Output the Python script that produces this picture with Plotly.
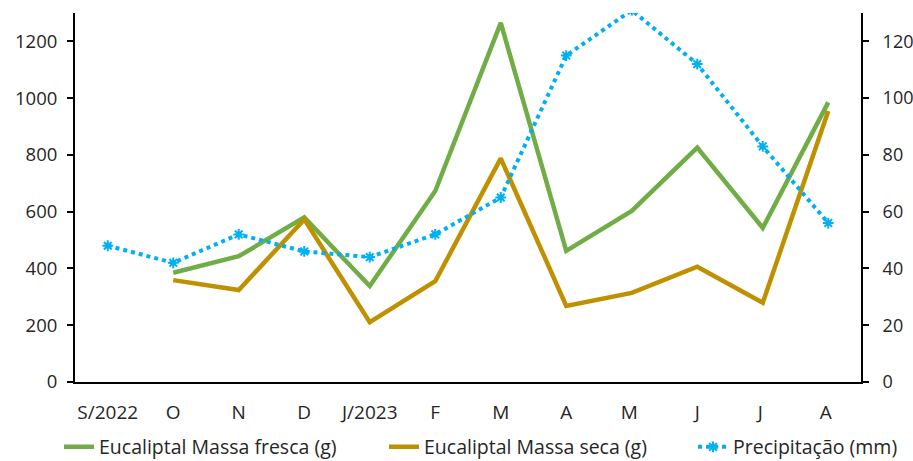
import plotly.graph_objects as go

months = ["S/2022", "O", "N", "D", "J/2023", "F", "M", "A", "M ", "J", "J ", "A "]
massa_fresca = [None, 385, 443, 580, 338, 673, 1265, 462, 603, 826, 543, 985]
massa_seca = [None, 359, 324, 573, 211, 355, 788, 268, 314, 406, 279, 955]
precipitacao = [48, 42, 52, 46, 44, 52, 65, 115, 131, 112, 83, 56]

font_family = "Open Sans, Liberation Sans, sans-serif"

fig = go.Figure()
fig.add_trace(go.Scatter(
    x=months, y=massa_fresca, mode="lines", name="Eucaliptal Massa fresca (g)",
    line=dict(color="#70AD47", width=4.5), connectgaps=False, legend="legend",
))
fig.add_trace(go.Scatter(
    x=months, y=massa_seca, mode="lines", name="Eucaliptal Massa seca (g)",
    line=dict(color="#BF9000", width=4.5), connectgaps=False, legend="legend2",
))
fig.add_trace(go.Scatter(
    x=months, y=precipitacao, mode="lines+markers", name="Precipitação (mm)",
    yaxis="y2", legend="legend3",
    line=dict(color="#00B0F0", width=4, dash="dot"),
    marker=dict(symbol="asterisk-open", size=9, color="#00B0F0",
                line=dict(color="#00B0F0", width=2)),
))

# one legend box per series, laid out along the bottom edge
legend_common = dict(orientation="h", xanchor="left", xref="container",
                     y=0.03, yanchor="middle", yref="container",
                     font=dict(size=19.5), bgcolor="rgba(0,0,0,0)")

fig.update_layout(
    width=913, height=461,
    margin=dict(l=75, r=52, t=13, b=79, autoexpand=False),
    paper_bgcolor="white", plot_bgcolor="white",
    font=dict(family=font_family, size=19, color="#262626"),
    showlegend=True,
    legend=dict(x=59 / 913, **legend_common),
    legend2=dict(x=384 / 913, **legend_common),
    legend3=dict(x=693 / 913, **legend_common),
    xaxis=dict(
        type="category", range=[-0.5, 11.5], showgrid=False,
        showline=True, linecolor="black", linewidth=2, ticks="",
        tickfont=dict(size=19), ticklabelstandoff=12,
    ),
    yaxis=dict(
        range=[0, 1300], tickvals=[0, 200, 400, 600, 800, 1000, 1200],
        showgrid=False, zeroline=False, showline=True, linecolor="black",
        linewidth=2, ticks="outside", ticklen=6, tickcolor="black", tickwidth=1.5,
        tickfont=dict(size=18.5), ticklabelstandoff=6,
    ),
    yaxis2=dict(
        range=[0, 130], tickvals=[0, 20, 40, 60, 80, 100, 120],
        overlaying="y", side="right", showgrid=False, zeroline=False,
        showline=True, linecolor="black", linewidth=2, ticks="outside",
        ticklen=6, tickcolor="black", tickwidth=1.5, tickfont=dict(size=18),
        ticklabelstandoff=10,
    ),
)

fig.write_html("out.html")
